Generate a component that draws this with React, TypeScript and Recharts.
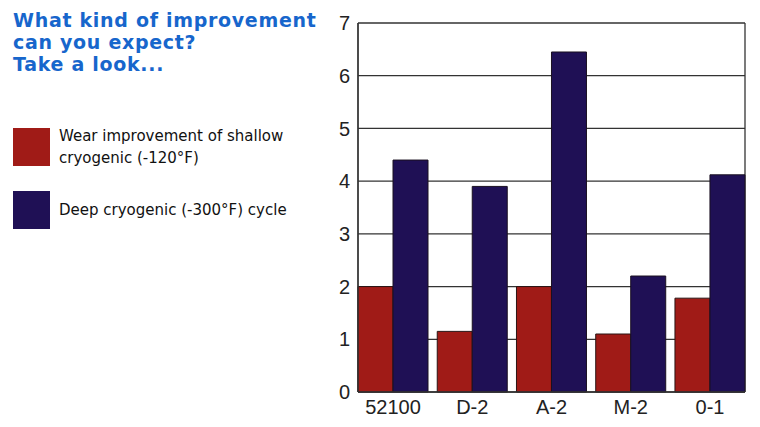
import { BarChart, Bar, XAxis, YAxis, CartesianGrid, Legend } from 'recharts'

const steels = ['52100', 'D-2', 'A-2', 'M-2', '0-1']
const shallowGain = [2.0, 1.15, 2.0, 1.1, 1.78]
const deepGain = [4.4, 3.9, 6.45, 2.2, 4.12]
const yTicks = [0, 1, 2, 3, 4, 5, 6, 7]

const seriesNames = ['Wear improvement of shallow cryogenic (-120°F)', 'Deep cryogenic (-300°F) cycle']
const titleLines = ['What kind of improvement', 'can you expect?', 'Take a look...']

const data = steels.map((steel, i) => ({ steel, shallow: shallowGain[i], deep: deepGain[i] }))

const RED = '#a01b17'
const NAVY = '#1f1055'
const LINE = '#333'

function LegendBox({ payload }: any) {
  // keep the series in declaration order, not alphabetical
  const items = [...(payload ?? [])].sort(
    (a: any, b: any) => seriesNames.indexOf(a.value) - seriesNames.indexOf(b.value),
  )
  return (
    <div style={{ fontFamily: '"DejaVu Sans", Verdana, sans-serif' }}>
      {items.map((item: any) => (
        <div key={item.value} style={{ display: 'flex', alignItems: 'center', height: 38, marginBottom: 25 }}>
          <span style={{ width: 37, height: 38, background: item.color, flex: 'none' }} />
          <span style={{ marginLeft: 9, fontSize: 15, lineHeight: '22px', color: '#111', width: 250 }}>
            {item.value}
          </span>
        </div>
      ))}
    </div>
  )
}

export default function App() {
  const tick = { fontSize: 20, fill: '#222', fontFamily: '"Liberation Sans", Arial, sans-serif' }
  return (
    <div style={{ position: 'absolute', left: 0, top: 0, width: 760, height: 427, background: '#fff' }}>
      <div
        style={{
          position: 'absolute',
          left: 13,
          top: 9,
          fontFamily: '"DejaVu Sans", Verdana, sans-serif',
          fontWeight: 'bold',
          fontSize: 19,
          letterSpacing: 0.7,
          lineHeight: '22px',
          color: '#1766cc',
          zIndex: 2,
        }}
      >
        {titleLines.map((l) => (
          <div key={l}>{l}</div>
        ))}
      </div>
      <BarChart
        width={760}
        height={427}
        data={data}
        margin={{ top: 23, right: 15, bottom: 5, left: 0 }}
        barCategoryGap={4.6}
        barGap={0}
      >
        <CartesianGrid
          stroke={LINE}
          strokeWidth={1.3}
          verticalCoordinatesGenerator={({ offset }: any) => [offset.left, offset.left + offset.width]}
        />
        <XAxis
          dataKey="steel"
          padding={{ left: -4.6, right: -4.6 }}
          tick={tick}
          tickLine={false}
          axisLine={{ stroke: LINE, strokeWidth: 1.3 }}
          height={30}
        />
        <YAxis
          domain={[0, 7]}
          ticks={yTicks}
          tick={tick}
          tickLine={false}
          axisLine={{ stroke: LINE, strokeWidth: 1.3 }}
          width={58}
        />
        <Legend
          layout="vertical"
          align="left"
          verticalAlign="top"
          width={300}
          content={<LegendBox />}
          wrapperStyle={{ left: 13, top: 128 }}
        />
        <Bar dataKey="shallow" name={seriesNames[0]} fill={RED} stroke="#2a1515" strokeWidth={1} isAnimationActive={false} />
        <Bar dataKey="deep" name={seriesNames[1]} fill={NAVY} stroke="#1a1020" strokeWidth={1} isAnimationActive={false} />
      </BarChart>
    </div>
  )
}
